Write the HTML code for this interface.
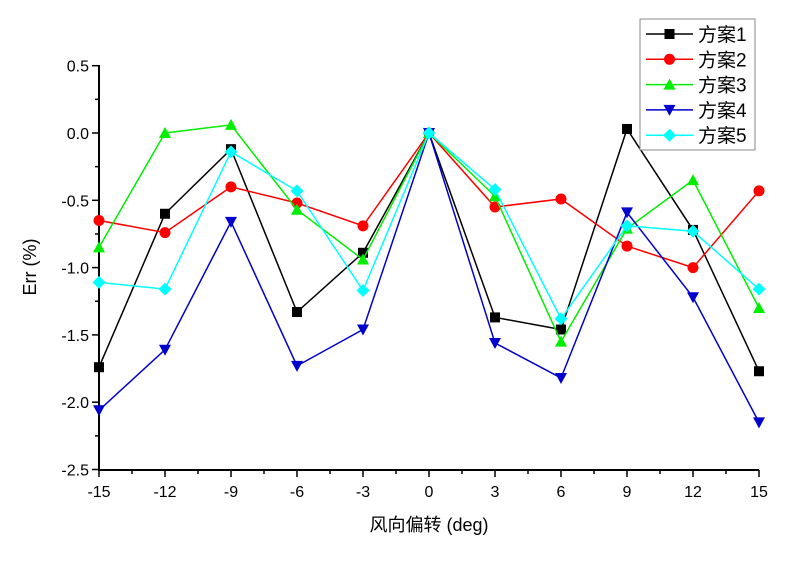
<!DOCTYPE html>
<html><head><meta charset="utf-8"><style>
html,body{margin:0;padding:0;background:#fff}
text{font-family:"Liberation Sans","Noto Sans CJK SC",sans-serif;fill:#000}
</style></head><body>
<svg id="s" width="800" height="565" xmlns="http://www.w3.org/2000/svg">
<g stroke="#000" stroke-width="2" fill="none">
<line x1="99" y1="65" x2="99" y2="471"/>
<line x1="98" y1="470" x2="759" y2="470"/>
</g>
<g id="ax"></g>
<g id="series"></g>
<rect x="640" y="19" width="115" height="131" fill="#fff" stroke="#888" stroke-width="1"/>
<g id="leg"></g>
<text x="36" y="267" font-size="18" text-anchor="middle" transform="rotate(-90 36 267)">Err (%)</text>
<text x="429" y="531" font-size="18" text-anchor="middle">风向偏转 (deg)</text>
</svg>
<script>
var NS="http://www.w3.org/2000/svg";
function el(p,t,a,txt){var e=document.createElementNS(NS,t);for(var k in a)e.setAttribute(k,a[k]);if(txt!==undefined)e.textContent=txt;p.appendChild(e);return e;}
function X(v){return 99+(v+15)*22;}
function Y(v){return 133-v*134.6;}
var ax=document.getElementById('ax');
for(var i=0;i<=12;i++){var v=0.5-i*0.25,y=Y(v);var major=i%2==0;
el(ax,'line',{x1:major?92:95,x2:99,y1:y,y2:y,stroke:'#000','stroke-width':1.5});
if(major)el(ax,'text',{x:89,y:y+6,'font-size':16,'text-anchor':'end'},v.toFixed(1));}
for(var i=0;i<=20;i++){var v=-15+i*1.5,x=X(v);var major=i%2==0;
el(ax,'line',{x1:x,x2:x,y1:470,y2:major?477:474,stroke:'#000','stroke-width':1.5});
if(major)el(ax,'text',{x:x,y:497,'font-size':16,'text-anchor':'middle'},String(v));}
var xs=[-15,-12,-9,-6,-3,0,3,6,9,12,15];
var D=[
['#000','sq',[-1.74,-0.60,-0.12,-1.33,-0.89,0,-1.37,-1.46,0.03,-0.72,-1.77]],
['#f00','ci',[-0.65,-0.74,-0.40,-0.52,-0.69,0,-0.55,-0.49,-0.84,-1.00,-0.43]],
['#0e0','up',[-0.85,0.00,0.06,-0.57,-0.94,0,-0.47,-1.55,-0.71,-0.35,-1.30]],
['#00c','dn',[-2.06,-1.61,-0.66,-1.73,-1.46,0,-1.56,-1.82,-0.59,-1.22,-2.15]],
['#0ff','di',[-1.11,-1.16,-0.14,-0.43,-1.17,0,-0.42,-1.38,-0.69,-0.73,-1.16]]];
function mk(g,t,c,x,y){
if(t=='sq')el(g,'rect',{x:x-5,y:y-5,width:10,height:10,fill:c});
else if(t=='ci')el(g,'circle',{cx:x,cy:y,r:5.5,fill:c});
else if(t=='up')el(g,'polygon',{points:(x-6)+','+(y+5)+' '+(x+6)+','+(y+5)+' '+x+','+(y-6),fill:c});
else if(t=='dn')el(g,'polygon',{points:(x-6)+','+(y-5)+' '+(x+6)+','+(y-5)+' '+x+','+(y+6),fill:c});
else el(g,'polygon',{points:x+','+(y-6.5)+' '+(x+6.5)+','+y+' '+x+','+(y+6.5)+' '+(x-6.5)+','+y,fill:c});}
var sg=document.getElementById('series'),lg=document.getElementById('leg');
D.forEach(function(d,k){
var pts=d[2].map(function(v,i){return X(xs[i])+','+Y(v);}).join(' ');
el(sg,'polyline',{points:pts,fill:'none',stroke:d[0],'stroke-width':1.5});
d[2].forEach(function(v,i){mk(sg,d[1],d[0],X(xs[i]),Y(v));});
var ly=34+k*25.3;
el(lg,'line',{x1:646,x2:693,y1:ly,y2:ly,stroke:d[0],'stroke-width':1.5});
mk(lg,d[1],d[0],669.5,ly);
el(lg,'text',{x:698,y:ly+7,'font-size':19},'方案'+(k+1));
});
</script>
</body></html>
